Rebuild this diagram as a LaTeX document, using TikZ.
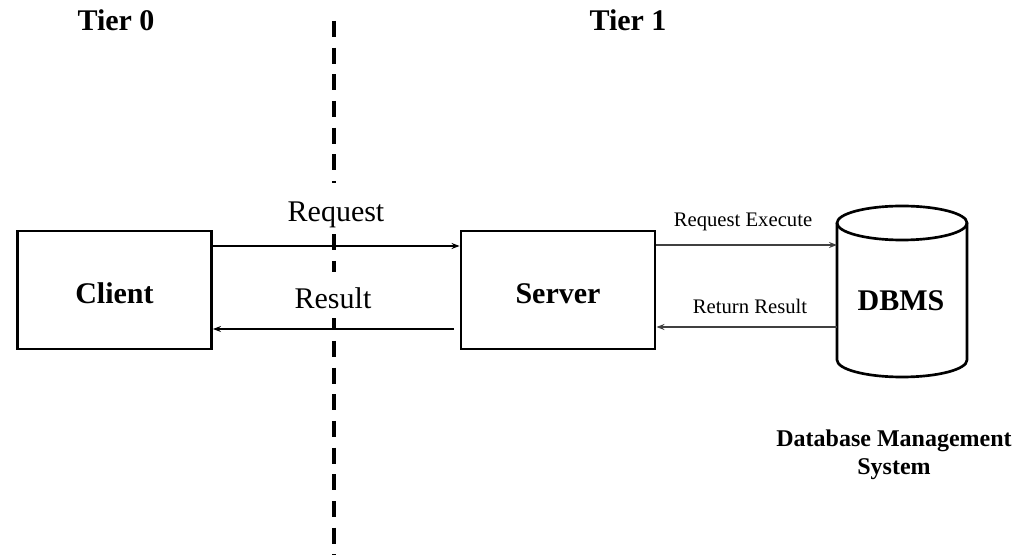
\documentclass[tikz,border=0pt]{standalone}
\usepackage{fontspec}
\setmainfont{Liberation Serif}
\usetikzlibrary{arrows.meta}
\newcommand{\BigFont}{\fontsize{22.5}{27}\selectfont}
\newcommand{\SmallFont}{\fontsize{15.5}{18}\selectfont}

\begin{document}
\begin{tikzpicture}[line join=miter,>={Stealth[length=6pt,width=4.5pt]}
  ,x=0.75pt,y=-0.75pt
  ,box/.style={draw,line width=2.2pt,minimum width=145.5pt,minimum height=88.5pt,
    inner sep=0pt,text height=20pt,text depth=0pt,font=\bfseries\BigFont}
  ,tier/.style={anchor=base,inner sep=0pt,font=\bfseries\BigFont}
  ,lbl/.style={anchor=base,fill=white,inner xsep=2pt,inner ysep=0pt,font=\BigFont}
  ,smalllbl/.style={anchor=base,inner sep=0pt,font=\SmallFont}
  ,divider/.style={line width=2.4pt,dash pattern=on 12pt off 8pt}
  ,thinarrow/.style={->,line width=0.8pt}
  ,dbarrow/.style={->,line width=1.3pt,color=black!75}]
  \useasboundingbox (0,0) rectangle (1031,555);
  % tier divider
  \coordinate (divtop) at (334,21);
  \coordinate (divbot) at (334,556);
  \draw[divider] (divtop) -- (divbot);
  \node[tier] (tier0) at (116,31) {Tier 0};
  \node[tier] (tier1) at (628,31) {Tier 1};
  % boxes
  \node[box] (client) at (114.5,290) {Client};
  \node[box] (server) at (558,290) {Server};
  % database cylinder
  \draw[line width=2pt] (837,223) -- (837,360)
    arc[start angle=180,end angle=360,x radius=48.75pt,y radius=12.75pt] -- (967,223);
  \draw[line width=2pt] (902,223) ellipse[x radius=48.75pt,y radius=12.75pt];
  \coordinate (dbmsleft) at (837,290);
  \node[inner sep=0pt,font=\bfseries\BigFont] (dbms) at (901,301) {DBMS};
  \node[align=center,inner sep=0pt,font=\bfseries\fontsize{18}{21}\selectfont]
    (dbmsname) at (894,455) {Database Management\\System};
  % tier 0 <-> tier 1
  \node[lbl,text height=29pt,text depth=7pt] (request) at (336,222) {Request};
  \node[lbl,text height=27.75pt,text depth=7pt] (result) at (333,309) {Result};
  \draw[thinarrow] ([yshift=33pt]client.east) -- ([yshift=33pt]client.east -| server.west);
  \draw[thinarrow,shorten <=4pt] ([yshift=-29.25pt]server.west)
    -- ([yshift=-29.25pt]server.west -| client.east);
  % server <-> dbms
  \node[smalllbl] (execute) at (743,227) {Request Execute};
  \node[smalllbl] (return) at (750,314) {Return Result};
  \draw[dbarrow] ([yshift=33.75pt]server.east) -- ([yshift=33.75pt]server.east -| dbmsleft);
  \draw[dbarrow] ([yshift=-27.75pt]server.east -| dbmsleft) -- ([yshift=-27.75pt]server.east);
\end{tikzpicture}
\end{document}
